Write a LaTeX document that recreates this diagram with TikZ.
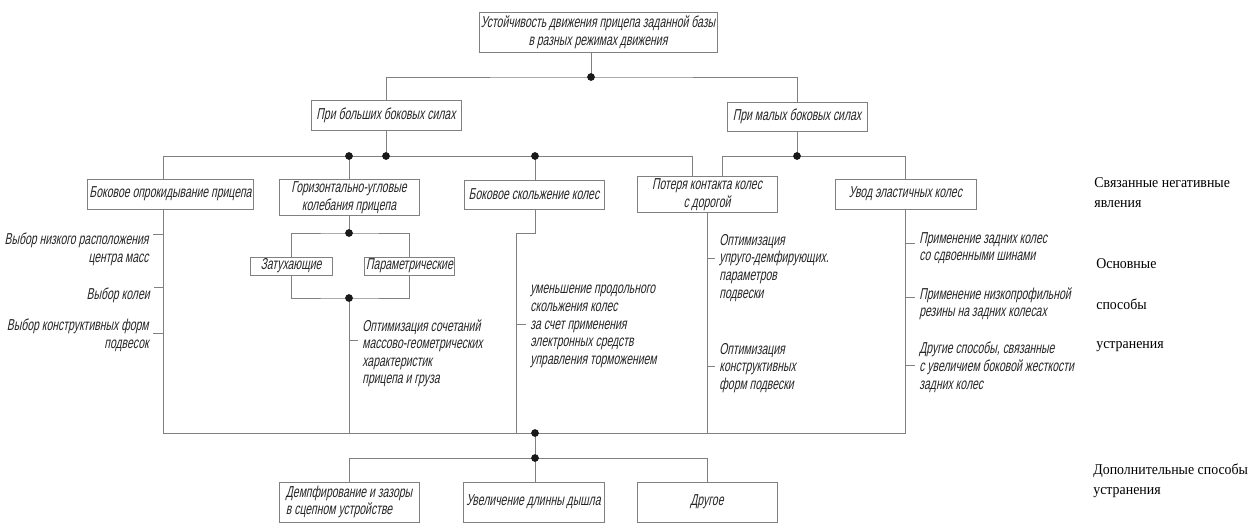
\documentclass[tikz,border=0pt]{standalone}
\usepackage{fontspec}
\setmainfont{Liberation Serif}[FakeStretch=0.93]
\newfontfamily\gostfont{Liberation Sans}[FakeSlant=0.2,FakeStretch=0.66]
\newcommand{\gost}{\gostfont\fontsize{9}{10}\selectfont}
\newcommand{\labfont}{\fontsize{8.5}{11.5}\selectfont}

\begin{document}
\begin{tikzpicture}[x=0.02cm,y=-0.02cm,
		line/.style={draw=black!50,line width=.5pt},
		box/.style={line,font=\gost,text=black!85,inner sep=1pt},
		side/.style={font=\gost,text=black!85,inner sep=0pt,align=left,anchor=north west},
		sidel/.style={side,align=right,anchor=north east},
		tick/.style={line,shorten >=2pt},
		lab/.style={font=\labfont,inner sep=0pt,align=left,anchor=north west}]
	\useasboundingbox (0,0) rectangle (1254,525);
			\node[box,minimum width=4.76cm,minimum height=.8cm,align=center] (top) at (598,32) {Устойчивость движения прицепа заданной базы\\в разных режимах движения};
			\node[box,minimum width=3cm,minimum height=.6cm] (big) at (386,115) {При больших боковых силах};
			\node[box,minimum width=2.8cm,minimum height=.58cm] (small) at (797,116.5) {При малых боковых силах};
			\node[box,minimum width=3.06cm,minimum height=.6cm] (b1) at (170.5,194) {Боковое опрокидывание прицепа};
			\node[box,minimum width=2.8cm,minimum height=.7cm,align=center] (b2) at (349,197.5) {Горизонтально-угловые\\колебания прицепа};
			\node[box,minimum width=2.8cm,minimum height=.58cm] (b3) at (534,194.5) {Боковое скольжение колес};
			\node[box,minimum width=2.8cm,minimum height=.7cm,align=center] (b4) at (707,194.5) {Потеря контакта колес\\с дорогой};
			\node[box,minimum width=2.82cm,minimum height=.6cm] (b5) at (905.5,194) {Увод эластичных колес};
			\node[box,minimum width=1.64cm,minimum height=.36cm] (z1) at (291,266) {Затухающие};
			\node[box,minimum width=1.7cm,minimum height=.36cm] (z2) at (409.5,266) {Параметрические};
			\node[box,minimum width=2.8cm,minimum height=.8cm,align=left] (d1) at (349,502) {Демпфирование и зазоры\\в сцепном устройстве};
			\node[box,minimum width=2.82cm,minimum height=.8cm] (d2) at (533.5,502) {Увеличение длинны дышла};
			\node[box,minimum width=2.8cm,minimum height=.8cm] (d3) at (707,502) {Другое};

			\coordinate (j0) at (591,77);
			\coordinate (j1) at (386,156);
			\coordinate (j1a) at (349,156);
			\coordinate (j1b) at (535,156);
			\coordinate (l1) at (163,156);
			\coordinate (l4) at (692,156);
			\coordinate (j2) at (797,156);
			\coordinate (r4) at (722,156);
			\coordinate (r5) at (905,156);
			\coordinate (j3) at (349,233);
			\coordinate (j4) at (349,298);
			\coordinate (bend) at (516,233);
			\coordinate (e1) at (163,433);
			\coordinate (e5) at (905,433);
			\coordinate (j5) at (535,433);
			\coordinate (j6) at (535,458);

			\draw[line] (top.south -| j0) -- (j0);
			\draw[line] (big.north) |- (j0) -| (small.north);
			\draw[line] (big.south) -- (j1);
			\draw[line] (b1.north -| l1) |- (l4) -- (b4.north -| l4);
			\draw[line] (j1a) -- (b2.north);
			\draw[line] (j1b) -- (b3.north -| j1b);
			\draw[line] (small.south) -- (j2);
			\draw[line] (b4.north -| r4) |- (r5) -- (b5.north -| r5);
			\draw[line] (b2.south) -- (j3);
			\draw[line] (z1.north) |- (j3) -| (z2.north);
			\draw[line] (z1.south) |- (j4) -| (z2.south);
			\draw[line] (j4) -- (j4 |- e1);
			\draw[line] (b1.south -| e1) -- (e1) -- (e5) -- (b5.south -| e5);
			\draw[line] (b3.south -| j1b) |- (bend) -- (bend |- e1);
			\draw[line] (b4.south) -- (b4.south |- e1);
			\draw[line] (j5) -- (j6);
			\draw[line] (d1.north) |- (j6) -| (d3.north);
			\draw[line] (j6) -- (d2.north -| j6);
			\foreach \j in {j0,j1,j1a,j1b,j2,j3,j4,j5,j6}
				\fill[black!90] (\j) circle (2.2pt);

				\node[sidel] (s1) at (149,233) {Выбор низкого расположения\\центра масс};
				\node[sidel] (s2) at (150,288) {Выбор колеи};
				\node[sidel] (s3) at (149,319) {Выбор конструктивных форм\\подвесок};
				\node[side] (m1) at (362,319) {Оптимизация сочетаний\\массово-геометрических\\характеристик\\прицепа и груза};
				\node[side] (m2) at (530,285) {уменьшение продольного\\скольжения колес\\за счет применения\\электронных средств\\управления торможением};
				\node[side] (m3) at (719,234) {Оптимизация\\упруго-демфирующих.\\параметров\\подвески};
				\node[side] (m4) at (719,343) {Оптимизация\\конструктивных\\форм подвески};
				\node[side] (r1) at (919,232) {Применение задних колес\\со сдвоенными шинами};
				\node[side] (r2) at (919,287) {Применение низкопрофильной\\резины на задних колесах};
				\node[side] (r3) at (919,342) {Другие способы, связанные\\с увеличием боковой жесткости\\задних колес};

			\coordinate (k1) at (163,234);
			\coordinate (k2) at (163,287);
			\coordinate (k3) at (163,333);
			\coordinate (k4) at (349,340);
			\coordinate (k5) at (516,324);
			\coordinate (k6) at (707,258);
			\coordinate (k7) at (707,366);
			\coordinate (k8) at (905,243);
			\coordinate (k9) at (905,297);
			\coordinate (k10) at (905,365);
			\draw[tick] (k1) -- (k1 -| s1.east);
			\draw[tick] (k2) -- (k2 -| s2.east);
			\draw[tick] (k3) -- (k3 -| s3.east);
			\draw[tick] (k4) -- (k4 -| m1.west);
			\draw[tick] (k5) -- (k5 -| m2.west);
			\draw[tick] (k6) -- (k6 -| m3.west);
			\draw[tick] (k7) -- (k7 -| m4.west);
			\draw[tick] (k8) -- (k8 -| r1.west);
			\draw[tick] (k9) -- (k9 -| r2.west);
			\draw[tick] (k10) -- (k10 -| r3.west);

				\node[lab] (n1) at (1094,177) {Связанные негативные\\явления};
				\node[lab] (n2) at (1096,258) {Основные};
				\node[lab] (n3) at (1096,298) {способы};
				\node[lab] (n4) at (1096,341) {устранения};
				\node[lab] (n5) at (1093,463) {Дополнительные способы\\устранения};
		\end{tikzpicture}
\end{document}
